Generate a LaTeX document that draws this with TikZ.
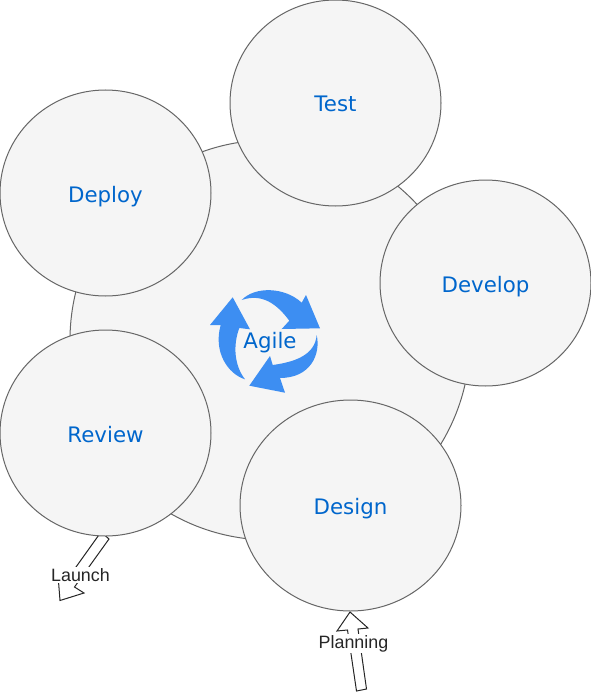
\documentclass[tikz,border=0pt]{standalone}
\usepackage{fontspec}
\setmainfont{DejaVu Sans}
\newfontfamily\labelfont{Liberation Sans}
\usepackage{tikz}
\usetikzlibrary{shapes.geometric}
\usepackage{xcolor}
\definecolor{phasefill}{HTML}{F5F5F5}
\definecolor{phaseline}{HTML}{666666}
\definecolor{phasetext}{HTML}{0066CC}
\definecolor{cyclearrow}{HTML}{3D8EF2}

\tikzset{
    phase/.style={ellipse,draw=phaseline,fill=phasefill,line width=0.75pt,inner sep=0,outer sep=0,
        text=phasetext,text height=13.5pt,text depth=0pt,font=\fontsize{16}{19}\selectfont},
    blockarrow/.style={draw=black!85,fill=white,line width=0.75pt,line join=miter},
    milestone/.style={fill=white,inner sep=1pt,text=black!85,font=\labelfont\fontsize{13.4}{16}\selectfont}
}

\begin{document}
\begin{tikzpicture}[x=0.75pt,y=-0.75pt]
    \useasboundingbox (0,0) rectangle (591,692);
    % hub
    \node[phase,minimum width=300pt,minimum height=300pt] (hub) at (270,340) {};
    % block arrows
    \draw[blockarrow] (101,532) -- (109,539) -- (74.5,587) -- (84,593) -- (60,600.5) -- (58,575) -- (66,581) -- cycle;
    \draw[blockarrow] (356.5,691) -- (366.5,689) -- (358,629) -- (368,628) -- (350,612) -- (337,631) -- (347.5,630) -- cycle;
    % phases
    \node[phase,minimum width=158.25pt,minimum height=154.5pt] (test) at (335.5,103) {Test};
    \node[phase,minimum width=158.25pt,minimum height=154.5pt] (deploy) at (105.5,193) {Deploy};
    \node[phase,minimum width=158.25pt,minimum height=154.5pt] (develop) at (485.5,283) {Develop};
    \node[phase,minimum width=158.25pt,minimum height=154.5pt] (review) at (105.5,433) {Review};
    \node[phase,minimum width=165.75pt,minimum height=158.25pt] (design) at (350.5,505.5) {Design};
    % cycle arrows
    \fill[cyclearrow] (241.7,300) .. controls (255,286) and (285,287) .. (301.7,302.7)
        -- (306,295) -- (320,328.3) -- (281.7,329) -- (289.3,320.7)
        .. controls (277,304) and (262,293) .. cycle;
    \fill[cyclearrow] (316.7,335) .. controls (321,355) and (310,378) .. (280,378)
        -- (285,392.7) -- (249.3,385.7) -- (270,356) -- (272.7,365)
        .. controls (295,362) and (315,355) .. cycle;
    \fill[cyclearrow] (245,379.3) .. controls (228,374) and (213,352) .. (220.7,325)
        -- (210,325) -- (232.7,297.3) -- (250,329.3) -- (239.3,328)
        .. controls (233,345) and (234,365) .. cycle;
    \node[text=phasetext,inner sep=0,text height=13.5pt,text depth=0pt,font=\fontsize{16}{19}\selectfont] (agile) at (270,339) {Agile};
    % milestones
    \node[milestone] (launch) at (80.5,575) {Launch};
    \node[milestone] (planning) at (353.5,643.5) {Planning};
\end{tikzpicture}
\end{document}
